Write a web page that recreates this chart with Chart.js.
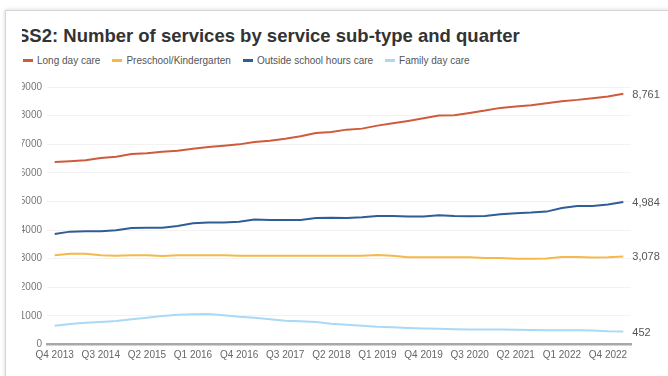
<!DOCTYPE html>
<html>
<head>
<meta charset="utf-8">
<script src="https://cdn.jsdelivr.net/npm/chart.js@4"></script>
<style>
  html, body { margin: 0; padding: 0; background: #fff; width: 668px; height: 376px; overflow: hidden; }
  body { font-family: "Liberation Sans", Arial, sans-serif; position: relative; }
  .card { position: absolute; left: 5px; top: 10px; width: 700px; height: 400px; border: 1px solid #d6d6d6; box-shadow: 0 0 4px rgba(0,0,0,0.18); background: #fff; }
  .clip { position: absolute; left: 22px; top: 11px; right: 0; bottom: 0; overflow: hidden; }
  .title { position: absolute; left: -5px; top: 14px; white-space: nowrap; font-size: 18.5px; font-weight: bold; color: #333; line-height: 22px; }
  .legend { position: absolute; left: 1px; top: 43px; white-space: nowrap; font-size: 10px; color: #555; line-height: 14px; }
  .legend span.item { display: inline-block; margin-right: 12px; }
  .legend span.swatch { display: inline-block; width: 10px; height: 3px; vertical-align: middle; margin-right: 4px; position: relative; top: -1px; }
  .wrap { position: absolute; left: -22px; top: 59px; width: 668px; height: 306px; }
</style>
</head>
<body>
<div class="card"></div>
<div class="clip">
  <div class="title">SS2: Number of services by service sub-type and quarter</div>
  <div class="legend" id="legend"></div>
  <div class="wrap"><canvas id="chart" width="668" height="306"></canvas></div>
</div>
<script>
// quarters Q4 2013 .. Q1 2023 (only every 3rd one is labelled)
const quarters = [
  'Q4 2013',
  'Q1 2014', 'Q2 2014', 'Q3 2014', 'Q4 2014',
  'Q1 2015', 'Q2 2015', 'Q3 2015', 'Q4 2015',
  'Q1 2016', 'Q2 2016', 'Q3 2016', 'Q4 2016',
  'Q1 2017', 'Q2 2017', 'Q3 2017', 'Q4 2017',
  'Q1 2018', 'Q2 2018', 'Q3 2018', 'Q4 2018',
  'Q1 2019', 'Q2 2019', 'Q3 2019', 'Q4 2019',
  'Q1 2020', 'Q2 2020', 'Q3 2020', 'Q4 2020',
  'Q1 2021', 'Q2 2021', 'Q3 2021', 'Q4 2021',
  'Q1 2022', 'Q2 2022', 'Q3 2022', 'Q4 2022',
  'Q1 2023'
];

const seriesNames = ['Long day care', 'Preschool/Kindergarten', 'Outside school hours care', 'Family day care'];
const seriesColors = ['#cf5a3c', '#f4b948', '#2f5d98', '#a9d9f7'];

const longDayCare = [6380, 6405, 6440, 6520, 6565, 6660, 6685, 6740, 6775, 6845, 6905, 6950, 6995, 7080, 7125, 7195, 7280, 7395, 7430, 7510, 7545, 7650, 7735, 7815, 7905, 8000, 8015, 8095, 8175, 8270, 8315, 8365, 8435, 8505, 8550, 8610, 8665, 8761];
const preschool = [3117, 3176, 3176, 3117, 3105, 3117, 3117, 3094, 3117, 3117, 3117, 3117, 3105, 3105, 3105, 3105, 3105, 3105, 3105, 3105, 3105, 3129, 3105, 3049, 3049, 3049, 3049, 3049, 3025, 3025, 3000, 3000, 3010, 3060, 3060, 3037, 3049, 3078];
const oshc = [3865, 3945, 3958, 3958, 3993, 4073, 4084, 4084, 4143, 4236, 4260, 4260, 4290, 4365, 4353, 4353, 4353, 4423, 4434, 4423, 4446, 4493, 4493, 4470, 4475, 4517, 4493, 4481, 4493, 4552, 4587, 4610, 4645, 4773, 4843, 4843, 4890, 4984];
const familyDayCare = [657, 717, 762, 787, 822, 880, 937, 997, 1042, 1056, 1066, 1020, 972, 937, 880, 832, 811, 787, 727, 690, 655, 620, 600, 580, 560, 548, 535, 528, 522, 520, 515, 505, 500, 500, 498, 490, 460, 452];

const seriesData = [longDayCare, preschool, oshc, familyDayCare];

// html legend
const legendEl = document.getElementById('legend');
seriesNames.forEach((name, i) => {
  const item = document.createElement('span');
  item.className = 'item';
  item.innerHTML = '<span class="swatch" style="background:' + seriesColors[i] + '"></span>' + name;
  legendEl.appendChild(item);
});

// value label at the end of each line
const endLabels = {
  id: 'endLabels',
  afterDatasetsDraw(chart) {
    const ctx = chart.ctx;
    ctx.save();
    ctx.font = '11px "Liberation Sans", Arial, sans-serif';
    ctx.fillStyle = '#555';
    ctx.textBaseline = 'middle';
    ctx.textAlign = 'left';
    chart.data.datasets.forEach((ds, i) => {
      const pts = chart.getDatasetMeta(i).data;
      const last = pts[pts.length - 1];
      const v = ds.data[ds.data.length - 1];
      ctx.fillText(v.toLocaleString('en-US'), last.x + 9, last.y + 1);
    });
    ctx.restore();
  }
};

new Chart(document.getElementById('chart').getContext('2d'), {
  type: 'line',
  data: {
    labels: quarters,
    datasets: seriesNames.map((name, i) => ({
      label: name,
      data: seriesData[i],
      borderColor: seriesColors[i],
      backgroundColor: seriesColors[i],
      borderWidth: 2,
      pointRadius: 0,
      tension: 0,
      fill: false
    }))
  },
  options: {
    responsive: false,
    animation: false,
    devicePixelRatio: 1,
    layout: { padding: { top: 17, right: 37, bottom: 9.5, left: 0 } },
    plugins: { legend: { display: false }, tooltip: { enabled: false } },
    scales: {
      x: {
        offset: true,
        grid: { display: false, drawTicks: false },
        border: { display: true, color: '#a8a8a8', width: 2.5 },
        ticks: {
          autoSkip: false,
          maxRotation: 0,
          padding: 5,
          color: '#666',
          font: { size: 10, family: '"Liberation Sans", Arial, sans-serif' },
          callback: (v, i) => (i % 3 === 0 ? quarters[i] : '')
        }
      },
      y: {
        min: 0,
        max: 9000,
        afterFit: s => { s.width = 47; },
        grid: { color: '#f2f2f2', drawTicks: false },
        border: { display: false },
        ticks: {
          stepSize: 1000,
          padding: 5,
          color: '#777',
          font: { size: 10, family: '"Liberation Sans", Arial, sans-serif' },
          callback: v => String(v)
        }
      }
    }
  },
  plugins: [endLabels]
});
</script>
</body>
</html>
